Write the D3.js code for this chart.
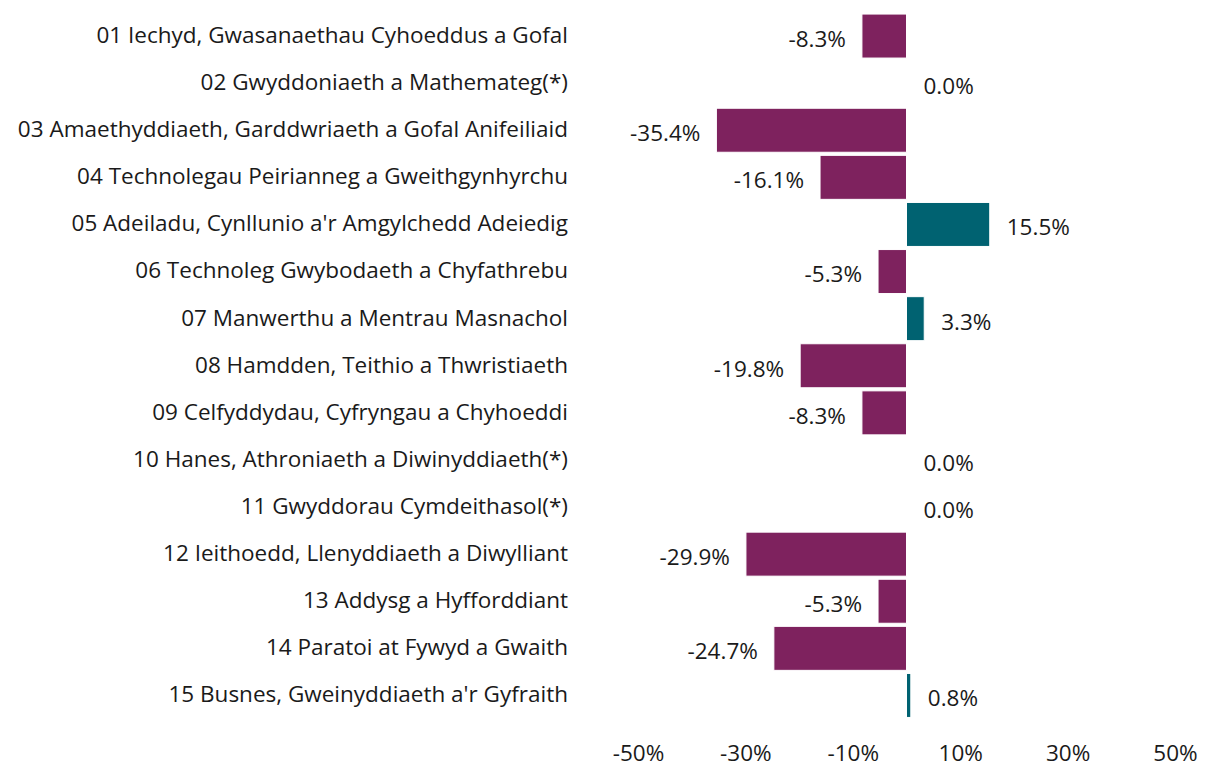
<!DOCTYPE html>
<html><head><meta charset="utf-8">
<script src="https://cdn.jsdelivr.net/npm/d3@7"></script>
<style>body{margin:0;background:#fff}svg{display:block}text{font-family:"Open Sans","Noto Sans",sans-serif}</style>
</head><body><svg id="c" width="1205" height="772"></svg>
<script>
const categories = [
"01 Iechyd, Gwasanaethau Cyhoeddus a Gofal",
"02 Gwyddoniaeth a Mathemateg(*)",
"03 Amaethyddiaeth, Garddwriaeth a Gofal Anifeiliaid",
"04 Technolegau Peirianneg a Gweithgynhyrchu",
"05 Adeiladu, Cynllunio a'r Amgylchedd Adeiedig",
"06 Technoleg Gwybodaeth a Chyfathrebu",
"07 Manwerthu a Mentrau Masnachol",
"08 Hamdden, Teithio a Thwristiaeth",
"09 Celfyddydau, Cyfryngau a Chyhoeddi",
"10 Hanes, Athroniaeth a Diwinyddiaeth(*)",
"11 Gwyddorau Cymdeithasol(*)",
"12 Ieithoedd, Llenyddiaeth a Diwylliant",
"13 Addysg a Hyfforddiant",
"14 Paratoi at Fywyd a Gwaith",
"15 Busnes, Gweinyddiaeth a'r Gyfraith"
];
const values = [-8.3, 0.0, -35.4, -16.1, 15.5, -5.3, 3.3, -19.8, -8.3, 0.0, 0.0, -29.9, -5.3, -24.7, 0.8];
const tickValues = [-50, -30, -10, 10, 30, 50];

const svg = d3.select("#c");
const x = d3.scaleLinear().domain([-50, 50]).range([638, 1175]);
const y = d3.scaleBand().domain(categories).range([12.5, 719]).paddingInner(0.066).paddingOuter(0.033);
const fs = 22.5, fill = "#1a1a1a";
const neg = "#7E225E", pos = "#006271";

svg.append("g").selectAll("rect").data(values).join("rect")
  .attr("x", d => x(Math.min(0, d)))
  .attr("width", d => Math.abs(x(d) - x(0)))
  .attr("y", (d, i) => y(categories[i]))
  .attr("height", y.bandwidth())
  .attr("fill", d => d < 0 ? neg : pos)
  .attr("stroke", "#fff").attr("stroke-width", 1);

svg.append("g").selectAll("text").data(values).join("text")
  .attr("x", d => d < 0 ? x(d) - 16 : x(d) + 17)
  .attr("y", (d, i) => y(categories[i]) + y.bandwidth() / 2 + 3)
  .attr("dy", "0.35em")
  .attr("text-anchor", d => d < 0 ? "end" : "start")
  .attr("font-size", fs).attr("fill", fill)
  .text(d => d.toFixed(1) + "%");

svg.append("g").selectAll("text").data(categories).join("text")
  .attr("x", 568)
  .attr("y", d => y(d) + y.bandwidth() / 2 - 1)
  .attr("dy", "0.35em")
  .attr("text-anchor", "end")
  .attr("font-size", fs).attr("fill", fill)
  .text(d => d);

const ax = svg.append("g").attr("transform", "translate(0,745)")
  .call(d3.axisBottom(x).tickValues(tickValues).tickSize(0).tickPadding(0).tickFormat(d => d + "%"));
ax.select(".domain").remove();
ax.selectAll("text").attr("font-size", fs).attr("fill", fill).attr("font-family", '"Open Sans","Noto Sans",sans-serif').attr("dy", "0.71em");
</script></body></html>
